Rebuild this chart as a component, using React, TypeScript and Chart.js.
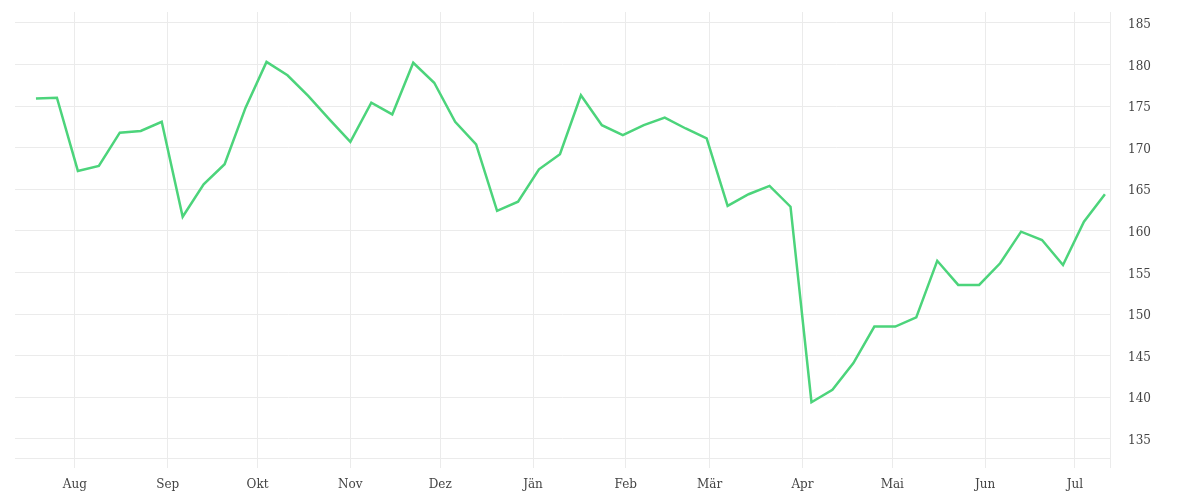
import React, { useEffect, useRef } from "react";
import { Chart, registerables } from "chart.js";

Chart.register(...registerables);

// Day offsets relative to 1 August (weekly observations)
const startDay = -13;
const weekStep = 7;

const prices = [
  175.9, 176.0, 167.2, 167.8, 171.8, 172.0, 173.1, 161.7, 165.6, 168.0,
  174.8, 180.3, 178.7, 176.2, 173.4, 170.7, 175.4, 174.0, 180.2, 177.8,
  173.1, 170.4, 162.4, 163.5, 167.4, 169.2, 176.3, 172.7, 171.5, 172.7,
  173.6, 172.3, 171.1, 163.0, 164.4, 165.4, 162.9, 139.4, 140.9, 144.1,
  148.5, 148.5, 149.6, 156.4, 153.5, 153.5, 156.1, 159.9, 158.9, 155.9,
  161.1, 164.4,
];

const monthLabels = ["Aug", "Sep", "Okt", "Nov", "Dez", "Jän", "Feb", "Mär", "Apr", "Mai", "Jun", "Jul"];
const monthDays = [0, 31, 61, 92, 122, 153, 184, 212, 243, 273, 304, 334];

const yTicks = [135, 140, 145, 150, 155, 160, 165, 170, 175, 180, 185];

const X_MIN = -20;
const X_MAX = 345.7;
const Y_MIN = 132.7;
const Y_MAX = 186.3;

const GRID = "#ebebeb";
const TEXT = "#444444";
const FONT = "'DejaVu Serif', serif";

export default function App() {
  const ref = useRef<HTMLCanvasElement | null>(null);

  useEffect(() => {
    if (!ref.current) return;
    const points = prices.map((v, i) => ({ x: startDay + i * weekStep, y: v }));
    const chart = new Chart(ref.current, {
      type: "line",
      data: {
        datasets: [
          {
            data: points,
            borderColor: "#4cd47b",
            borderWidth: 2.5,
            pointRadius: 0,
            tension: 0,
            fill: false,
          },
        ],
      },
      options: {
        animation: false,
        responsive: true,
        maintainAspectRatio: false,
        layout: { padding: { left: 7, top: 4, right: 0, bottom: 0 } },
        plugins: { legend: { display: false }, tooltip: { enabled: false } },
        scales: {
          x: {
            type: "linear",
            min: X_MIN,
            max: X_MAX,
            afterBuildTicks: (scale: any) => {
              scale.ticks = [...monthDays.map((d) => ({ value: d })), { value: X_MAX }];
            },
            afterFit: (scale: any) => {
              scale.height = 34;
              scale.paddingLeft = 0;
              scale.paddingRight = 0;
            },
            ticks: {
              autoSkip: false,
              maxRotation: 0,
              padding: 10,
              color: TEXT,
              font: { family: FONT, size: 12 },
              callback: (value: any) => {
                const idx = monthDays.indexOf(Number(value));
                return idx >= 0 ? monthLabels[idx] : "";
              },
            },
            grid: {
              color: GRID,
              lineWidth: 1,
              drawTicks: true,
              tickLength: 10,
            },
            border: { display: true, color: GRID },
          },
          y: {
            position: "right",
            min: Y_MIN,
            max: Y_MAX,
            afterBuildTicks: (scale: any) => {
              scale.ticks = yTicks.map((v) => ({ value: v }));
            },
            afterFit: (scale: any) => {
              scale.width = 82;
              scale.paddingTop = 0;
              scale.paddingBottom = 0;
            },
            ticks: {
              padding: 18,
              labelOffset: 2,
              color: TEXT,
              font: { family: FONT, size: 12 },
              callback: (value: any) => String(value),
            },
            grid: { color: GRID, lineWidth: 1, drawTicks: false },
            border: { display: false },
          },
        },
      },
    });
    return () => chart.destroy();
  }, []);

  return (
    <div style={{ width: "100%", height: 484, position: "relative" }}>
      <canvas ref={ref} />
    </div>
  );
}
